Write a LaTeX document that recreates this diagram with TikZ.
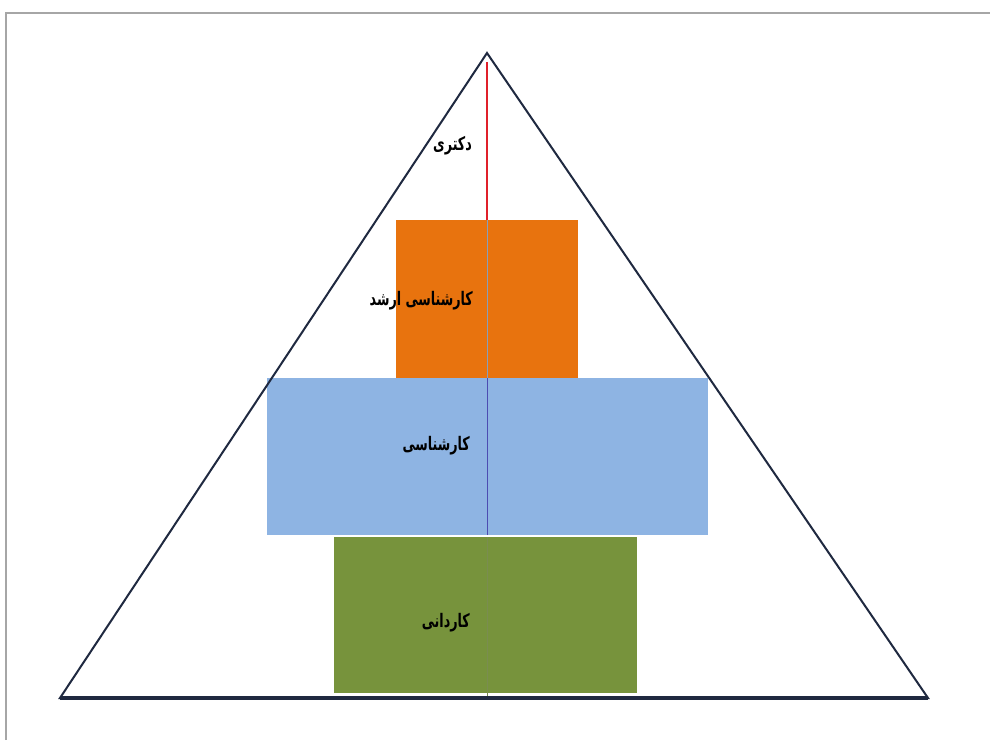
\documentclass[tikz,border=0pt]{standalone}
\usepackage{fontspec}
\newfontfamily\arabicfont[Script=Arabic]{DejaVu Sans}
\TeXXeTstate=1
\definecolor{lvlorange}{HTML}{E8730E}
\definecolor{lvlblue}{HTML}{8EB4E3}
\definecolor{lvlgreen}{HTML}{77933C}
\definecolor{triline}{HTML}{1F2940}
\definecolor{framegray}{HTML}{A6A6A6}
\definecolor{redline}{HTML}{E0202A}
\tikzset{
  lvltext/.style={font=\arabicfont\bfseries\fontsize{14}{16}\selectfont, text=black, inner sep=0pt, xscale=0.68, transform shape},
}
\begin{document}
\begin{tikzpicture}[x=0.75pt,y=-0.75pt]
\useasboundingbox (0,0) rectangle (990,740);
\fill[white] (0,0) rectangle (990,740);
% frame
\draw[framegray, line width=1.5pt] (6,740) -- (6,13) -- (990,13);
% boxes
\fill[lvlorange] (396,220) rectangle (578,378);
\fill[lvlblue] (267,378) rectangle (708,535);
\fill[lvlgreen] (334,537) rectangle (637,693);
% center line
\coordinate (apex) at (487,53);
\coordinate (bl) at (60,698);
\coordinate (br) at (928,698);
\coordinate (rtop) at (487,62);
\coordinate (rbot) at (487,220);
\coordinate (cbot) at (487,698);
\draw[redline, line width=2.2pt] (rtop) -- (rbot);
\draw[lvlblue!60!gray, line width=0.6pt] (rbot) -- (487,378);
\draw[blue!40!gray, line width=0.6pt] (487,378) -- (487,535);
\draw[lvlgreen!70!gray, line width=0.6pt] (487,537) -- (cbot);
% triangle
\draw[triline, line width=1.5pt, line join=miter] (apex) -- (br) -- (bl) -- cycle;
\draw[triline, line width=2.4pt] (bl) -- (br);
% labels
\node[lvltext, anchor=east] (t1) at (472,146) {\beginR دکتری\endR};
\node[lvltext, anchor=east] (t2) at (473,301) {\beginR کارشناسی ارشد\endR};
\node[lvltext, anchor=east] (t3) at (470,446) {\beginR کارشناسی\endR};
\node[lvltext, anchor=east] (t4) at (470,623) {\beginR کاردانی\endR};
\end{tikzpicture}
\end{document}
